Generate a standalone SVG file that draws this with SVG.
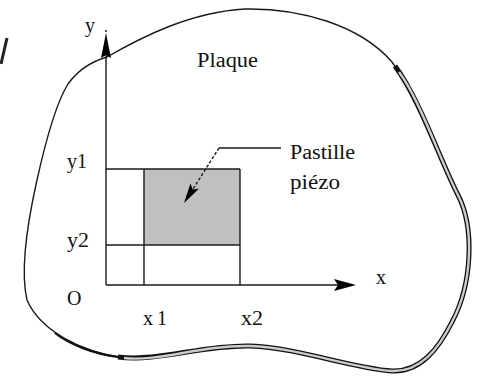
<svg xmlns="http://www.w3.org/2000/svg" width="482" height="378" viewBox="0 0 482 378">
<style>
  text { font-family: "Liberation Serif", "Times New Roman", serif; font-size: 20px; fill: #111; }
  .ln { stroke: #1a1a1a; stroke-width: 1.4; fill: none; }
  .head { fill: #000; stroke: none; }
</style>
<rect x="0" y="0" width="482" height="378" fill="#fff"/>

<g id="mark">
  <line x1="7" y1="38" x2="1" y2="64" stroke="#222" stroke-width="3"/>
</g>

<g id="plaque">
  <path class="ln" d="M107 57 C140 38 190 12 245 9 C300 8 360 25 392 62 C420 100 440 160 458 195 C475 228 472 285 452 322 C438 350 420 372 392 371 C350 368 300 348 250 346 C200 345 160 362 125 358 C80 352 40 330 27 300 C20 270 28 220 37 180 C47 135 58 100 68 84 C78 70 90 62 107 57 Z"/>
  <path d="M395 66 C420 100 440 160 458 195 C475 228 472 285 452 322 C438 350 420 372 392 371 C350 368 300 348 250 346 C200 345 160 362 118 357" fill="none" stroke="#111" stroke-width="5"/>
  <path d="M399 72 C420 100 440 160 458 195 C475 228 472 285 452 322 C438 350 420 372 392 371 C350 368 300 348 250 346 C200 345 160 362 124 358" fill="none" stroke="#cccccc" stroke-width="2.4"/>
  <path d="M118 357 C95 354 70 345 55 333" fill="none" stroke="#111" stroke-width="2.2"/>
  <text x="197" y="67" textLength="61" lengthAdjust="spacingAndGlyphs">Plaque</text>
</g>

<g id="grid">
  <rect id="pastille-rect" x="144" y="169" width="96" height="76" fill="#c0c0c0"/>
  <line class="ln" x1="106" y1="169" x2="240" y2="169"/>
  <line class="ln" x1="106" y1="245" x2="240" y2="245"/>
  <line class="ln" x1="144" y1="169" x2="144" y2="285"/>
  <line class="ln" x1="240" y1="169" x2="240" y2="285"/>
</g>

<g id="axes">
  <line class="ln" x1="106" y1="50" x2="106" y2="285"/>
  <polygon class="head" points="106,33 111,58 106,55 101,58"/>
  <circle cx="106" cy="31" r="0.9" fill="#000"/>
  <line class="ln" x1="106" y1="285" x2="340" y2="285"/>
  <polygon class="head" points="356,285 334,279 338,285 334,291"/>
</g>

<g id="labels">
  <text x="85" y="32">y</text>
  <text x="67" y="168">y1</text>
  <text x="67" y="247" textLength="22" lengthAdjust="spacingAndGlyphs">y2</text>
  <text x="67" y="305">O</text>
  <text x="143" y="325" textLength="24">x1</text>
  <text x="241" y="325" textLength="22" lengthAdjust="spacingAndGlyphs">x2</text>
  <text x="376" y="284">x</text>
</g>

<g id="pastille">
  <text x="290" y="159" textLength="65" lengthAdjust="spacingAndGlyphs">Pastille</text>
  <text x="290" y="189" textLength="50" lengthAdjust="spacingAndGlyphs">piézo</text>
</g>

<g id="connectors">
  <polyline fill="none" stroke="#1a1a1a" stroke-width="1.4" points="281,148 219,148"/>
  <line x1="219" y1="148" x2="193" y2="189" stroke="#1a1a1a" stroke-width="1.4" stroke-dasharray="3 2"/>
  <polygon class="head" points="184,203 190.5,183.4 192.6,189.5 198.9,188.8"/>
</g>
</svg>
